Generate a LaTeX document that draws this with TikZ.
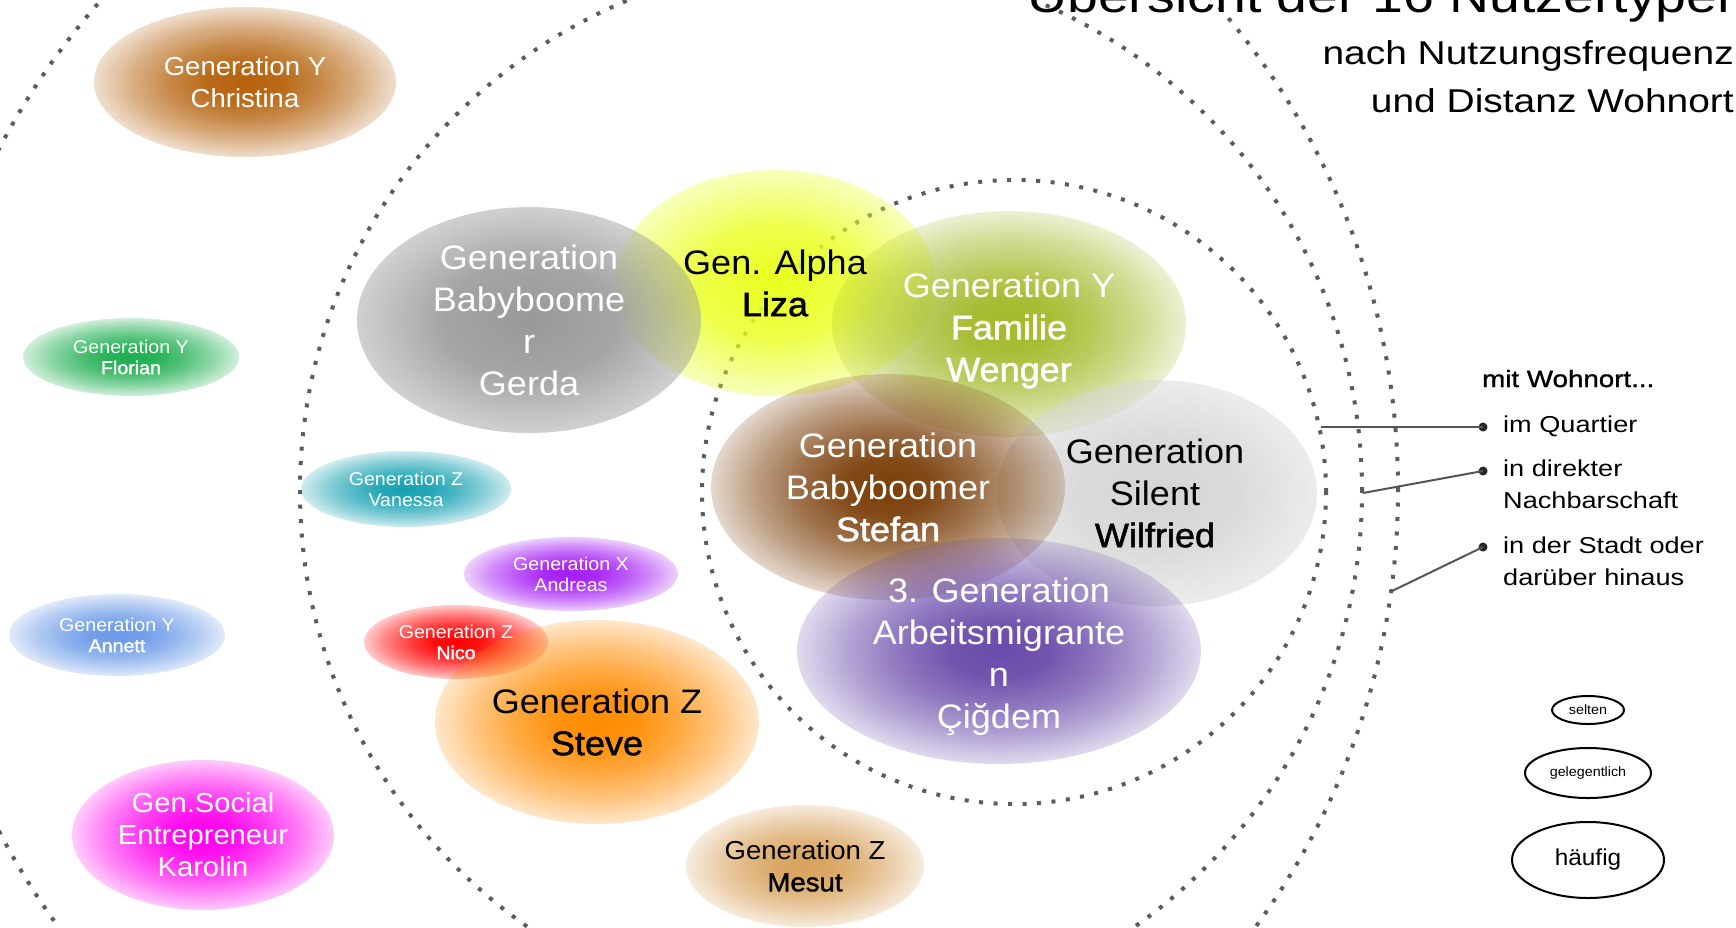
\documentclass[tikz,border=0pt]{standalone}
\usepackage{fontspec}
\setmainfont{Liberation Sans}
\newfontfamily\nodefont[FakeStretch=1.06]{Liberation Sans}
\newfontfamily\nodemed[FakeStretch=1.06,FakeBold=1.5]{Liberation Sans}
\newfontfamily\legfont[FakeStretch=1.18]{Liberation Sans}
\newfontfamily\legmed[FakeStretch=1.18,FakeBold=1.3]{Liberation Sans}
\usetikzlibrary{shapes.geometric,fadings}

% the path maps onto the 25bp circle of the fading
\pgfdeclareradialshading{fadeshA}{\pgfpointorigin}{color(0bp)=(pgftransparent!0); color(6.25bp)=(pgftransparent!6); color(12.5bp)=(pgftransparent!25); color(18.75bp)=(pgftransparent!50); color(25bp)=(pgftransparent!80); color(50bp)=(pgftransparent!80)}
\pgfdeclarefading{fadeA}{\pgfuseshading{fadeshA}}
\pgfdeclareradialshading{fadeshB}{\pgfpointorigin}{color(0bp)=(pgftransparent!0); color(12.5bp)=(pgftransparent!12); color(25bp)=(pgftransparent!55); color(50bp)=(pgftransparent!55)}
\pgfdeclarefading{fadeB}{\pgfuseshading{fadeshB}}
\pgfdeclareradialshading{fadeshC}{\pgfpointorigin}{color(0bp)=(pgftransparent!0); color(12.5bp)=(pgftransparent!20); color(25bp)=(pgftransparent!70); color(50bp)=(pgftransparent!70)}
\pgfdeclarefading{fadeC}{\pgfuseshading{fadeshC}}

\definecolor{cchr}{HTML}{B5620C}
\definecolor{cflo}{HTML}{1DAF50}
\definecolor{cann}{HTML}{6A9AE8}
\definecolor{cvan}{HTML}{17A2B2}
\definecolor{cand}{HTML}{A51DF5}
\definecolor{cnic}{HTML}{FF0000}
\definecolor{cste}{HTML}{FF8C00}
\definecolor{cmes}{HTML}{D9A35E}
\definecolor{ckar}{HTML}{FF00EE}
\definecolor{cger}{HTML}{999999}
\definecolor{cliz}{HTML}{EAFF1E}
\definecolor{cfam}{HTML}{A4BA2A}
\definecolor{cwil}{HTML}{D6D6D6}
\definecolor{cstf}{HTML}{7B3F0A}
\definecolor{ccig}{HTML}{6A4BAA}
\definecolor{dotgray}{HTML}{5C5C5C}
\definecolor{linegray}{HTML}{555555}

\newcommand\fsBig{\nodefont\fontsize{34}{42}\selectfont}
\newcommand\fsMid{\nodefont\fontsize{26}{32}\selectfont}
\newcommand\fsKar{\nodefont\fontsize{27.5}{32}\selectfont}
\newcommand\fsSmall{\nodefont\fontsize{18.5}{21}\selectfont}
\newcommand\nm[1]{{\nodemed #1}}

\tikzset{
  blob/.style={ellipse, inner sep=0pt, draw=none, path fading=fadeA},
  wtxt/.style={text=white, align=center, inner sep=0pt},
  btxt/.style={text=black, align=center, inner sep=0pt},
  dotring/.style={draw=dotgray, line width=4pt, dash pattern=on 4pt off 10.5pt},
  legline/.style={draw=linegray, line width=2pt},
  legdot/.style={circle, fill=black!85, inner sep=0pt, minimum size=9pt},
  legtxt/.style={font=\legfont\fontsize{23}{32}\selectfont, align=left, inner sep=0pt},
  freq/.style={ellipse, draw=black, line width=2pt, inner sep=0pt},
}

\begin{document}
\begin{tikzpicture}[x=1pt, y=-1pt]
\useasboundingbox (0,0) rectangle (1736,927);
\clip (0,0) rectangle (1736,927);
\fill[white] (0,0) rectangle (1736,927);

% dotted distance rings
\coordinate (outerC) at (657,490);
\coordinate (midC) at (831,491);
\coordinate (innerC) at (1014,492);
\draw[dotring] (outerC) circle[radius=741pt];
\draw[dotring] (midC) circle[radius=531pt];
\draw[dotring] (innerC) circle[radius=312pt];

% user type ellipses
\node[blob, fill=cchr, minimum width=302pt, minimum height=150pt] (chr) at (245,82) {};
\node[blob, fill=cflo, minimum width=216pt, minimum height=78pt] (flo) at (131,357) {};
\node[blob, fill=cann, minimum width=216pt, minimum height=82pt] (ann) at (117,635) {};
\node[blob, fill=cvan, minimum width=210pt, minimum height=76pt] (van) at (406,489) {};
\node[blob, fill=cand, minimum width=214pt, minimum height=74pt] (and) at (571,574) {};
\node[blob, fill=ckar, minimum width=262pt, minimum height=150pt] (kar) at (203,835) {};
\node[blob, fill=cmes, minimum width=238pt, minimum height=122pt] (mes) at (805,866) {};
\node[blob, fill=cnic, minimum width=184pt, minimum height=74pt] (nic) at (456,642) {};
\node[blob, fill=cste, minimum width=324pt, minimum height=204pt] (ste) at (597,722) {};
\node[blob, fill=cliz, path fading=fadeC, minimum width=320pt, minimum height=226pt] (liz) at (775,283) {};
\node[blob, fill=cger, path fading=fadeB, minimum width=344pt, minimum height=226pt] (ger) at (529,320) {};
\node[blob, fill=cfam, minimum width=354pt, minimum height=226pt] (fam) at (1009,324) {};
\node[blob, fill=cwil, path fading=fadeB, minimum width=320pt, minimum height=226pt] (wil) at (1157,493) {};
\node[blob, fill=cstf, minimum width=354pt, minimum height=226pt] (stf) at (888,487) {};
\node[blob, fill=ccig, minimum width=404pt, minimum height=226pt] (cig) at (999,651) {};

% labels
\node[wtxt, font=\fsMid] (chr-t) at (chr.center) {Generation Y\\Christina};
\node[wtxt, font=\fsSmall] (flo-t) at (flo.center) {Generation Y\\\nm{Florian}};
\node[wtxt, font=\fsSmall] (ann-t) at (ann.center) {Generation Y\\\nm{Annett}};
\node[wtxt, font=\fsSmall] (van-t) at (van.center) {Generation Z\\Vanessa};
\node[wtxt, font=\fsSmall] (and-t) at (and.center) {Generation X\\Andreas};
\node[wtxt, font=\fsKar] (kar-t) at (kar.center) {Gen.Social\\Entrepreneur\\Karolin};
\node[btxt, font=\fsMid] (mes-t) at (mes.center) {Generation Z\\\nm{Mesut}};
\node[wtxt, font=\fsSmall] (nic-t) at (nic.center) {Generation Z\\\nm{Nico}};
\node[btxt, font=\fsBig] (ste-t) at (ste.center) {Generation Z\\\nm{Steve}};
\node[btxt, font=\fsBig] (liz-t) at (liz.center) {Gen. Alpha\\\nm{Liza}};
\node[wtxt, font=\fsBig] (ger-t) at (ger.center) {Generation\\Babyboome\\r\\Gerda};
\node[wtxt, font=\fsBig] (fam-t) at ([yshift=-6.5pt]fam.center) {Generation Y\\\nm{Familie}\\\nm{Wenger}};
\node[btxt, font=\fsBig] (wil-t) at ([xshift=-2pt]wil.center) {Generation\\Silent\\\nm{Wilfried}};
\node[wtxt, font=\fsBig] (stf-t) at (stf.center) {Generation\\Babyboomer\\\nm{Stefan}};
\node[wtxt, font=\fsBig] (cig-t) at ([yshift=-5.5pt]cig.center) {3. Generation\\Arbeitsmigrante\\n\\Çiğdem};

% title
\node[anchor=base west, inner sep=0pt, font=\legfont\fontsize{47}{50}\selectfont] (title) at (1027,12) {Übersicht der 16 Nutzertypen};
\node[anchor=base east, inner sep=0pt, font=\legfont\fontsize{33}{40}\selectfont] (sub1) at (1734,64) {nach Nutzungsfrequenz};
\node[anchor=base east, inner sep=0pt, font=\legfont\fontsize{33}{40}\selectfont] (sub2) at (1734,112) {und Distanz Wohnort};

% legend: distance
\node[anchor=base west, inner sep=0pt, font=\legmed\fontsize{23.5}{30}\selectfont] (wohn) at (1482,387) {mit Wohnort...};
\node[legtxt, anchor=base west] (l1) at (1503,432) {im Quartier};
\node[legtxt, anchor=west] (l2) at (1503,484.5) {in direkter\\Nachbarschaft};
\node[legtxt, anchor=west] (l3) at (1503,561.5) {in der Stadt oder\\darüber hinaus};
\node[legdot] (d1) at (1483,427) {};
\node[legdot] (d2) at (1483,471) {};
\node[legdot] (d3) at (1483,547) {};
\coordinate (c1) at (1321,427);
\coordinate (c2) at (1363,493);
\coordinate (c3) at (1392,591);
\draw[legline] (c1) -- (d1.center);
\draw[legline] (c2) -- (d2.center);
\draw[legline] (c3) -- (d3.center);

% legend: frequency
\node[freq, minimum width=72pt, minimum height=28pt] (selten) at (1588,710) {};
\node[freq, minimum width=126pt, minimum height=50pt] (geleg) at (1588,773) {};
\node[freq, minimum width=152pt, minimum height=76pt] (haeuf) at (1588,860) {};
\node[btxt, font=\nodefont\fontsize{13.5}{16}\selectfont] (selten-t) at (selten.center) {selten};
\node[btxt, font=\nodefont\fontsize{13.5}{16}\selectfont] (geleg-t) at (geleg.center) {gelegentlich};
\node[btxt, font=\nodefont\fontsize{23}{26}\selectfont] (haeuf-t) at (haeuf.center) {häufig};
\end{tikzpicture}
\end{document}
